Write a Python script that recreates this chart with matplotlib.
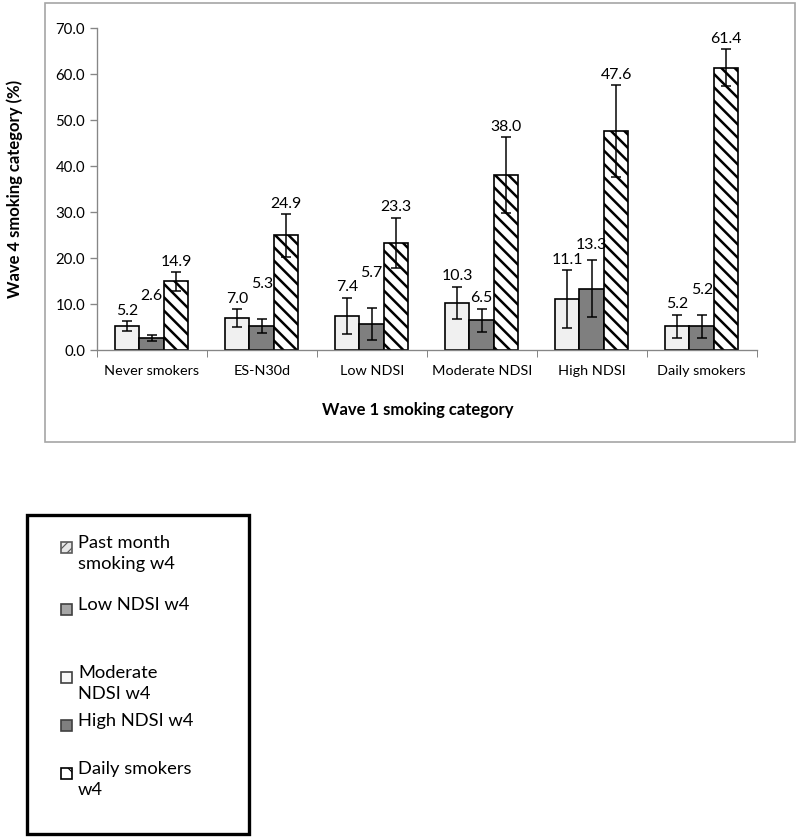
import matplotlib
matplotlib.use("Agg")
import numpy as np
from matplotlib import pyplot as plt
from matplotlib.patches import Rectangle

# wave 1 categories on the x axis
categories = ["Never smokers", "ES-N30d", "Low NDSI", "Moderate NDSI", "High NDSI", "Daily smokers"]

# wave 4 outcome (%) and error bar half widths, one list per bar series
moderate_w4 = [5.2, 7.0, 7.4, 10.3, 11.1, 5.2]
moderate_err = [1.0, 1.9, 4.0, 3.5, 6.3, 2.5]
high_w4 = [2.6, 5.3, 5.7, 6.5, 13.3, 5.2]
high_err = [0.7, 1.5, 3.5, 2.5, 6.2, 2.5]
daily_w4 = [14.9, 24.9, 23.3, 38.0, 47.6, 61.4]
daily_err = [2.0, 4.6, 5.5, 8.2, 10.0, 4.0]

legend_labels = ["Past month\nsmoking w4", "Low NDSI w4", "Moderate\nNDSI w4",
                 "High NDSI w4", "Daily smokers\nw4"]

W, H, DPI = 800, 838, 120
plt.rcParams["font.family"] = ["Lato", "DejaVu Sans"]
plt.rcParams["hatch.linewidth"] = 1.5

fig = plt.figure(figsize=(W / DPI, H / DPI), dpi=DPI)


def px(x, y):
    # pixel position (from top left) -> figure fraction
    return x / W, 1 - y / H


# outer chart frame
fig.add_artist(Rectangle(px(45, 442), 750 / W, 439 / H, transform=fig.transFigure,
                         fill=False, edgecolor="#a6a6a6", lw=1))

ax = fig.add_axes([96.7 / W, 1 - 350 / H, 660 / W, 322 / H])
x = np.arange(len(categories))
bw = 0.223
ekw = dict(ecolor="black", elinewidth=0.9, capsize=3.2, capthick=0.9)

series = [
    (moderate_w4, moderate_err, dict(color="#f0f0f0")),
    (high_w4, high_err, dict(color="#7f7f7f")),
    (daily_w4, daily_err, dict(color="white", hatch="\\\\\\")),
]
prev_top = [None] * len(categories)
for i, (vals, errs, style) in enumerate(series):
    pos = x + (i - 1) * bw
    ax.bar(pos, vals, bw, yerr=errs, edgecolor="black", linewidth=1.0,
           error_kw=ekw, zorder=2, **style)
    for k, (xp, v, e) in enumerate(zip(pos, vals, errs)):
        top = v + e
        # keep neighbouring labels from sitting on top of each other
        if prev_top[k] is not None and abs(top - prev_top[k]) < 3.2:
            top = max(top, prev_top[k] + 3.2)
        prev_top[k] = top
        ax.annotate(f"{v:.1f}", (xp, top), xytext=(0, 2), textcoords="offset points",
                    ha="center", va="bottom", fontsize=9.5)

ax.set_xlim(-0.5, len(categories) - 0.5)
ax.set_ylim(0, 70)
ax.set_yticks(np.arange(0, 71, 10))
ax.set_yticklabels([f"{t:.1f}" for t in np.arange(0, 71, 10)], fontsize=9)
ax.set_xticks(x)
ax.set_xticklabels(categories, fontsize=8.6)
ax.set_xticks(np.arange(-0.5, len(categories)), minor=True)
ax.tick_params(axis="x", which="major", length=0, pad=9)
ax.tick_params(axis="x", which="minor", length=4, color="#868686", direction="out")
ax.tick_params(axis="y", length=4, color="#868686", direction="out", pad=3)
for s in ["top", "right"]:
    ax.spines[s].set_visible(False)
for s in ["left", "bottom"]:
    ax.spines[s].set_color("#868686")

fig.text(*px(15, 189), "Wave 4 smoking category (%)", rotation=90, ha="center", va="center",
         fontsize=10, fontweight="bold")
fig.text(*px(418, 410), "Wave 1 smoking category", ha="center", va="center",
         fontsize=10, fontweight="bold")

# separate legend box below the chart
plt.rcParams["hatch.linewidth"] = 0.7
fig.add_artist(Rectangle(px(27, 834), 222 / W, 319 / H, transform=fig.transFigure,
                         fill=False, edgecolor="black", lw=2))
legend_styles = [
    dict(facecolor="#e6e6e6", hatch="////", edgecolor="#595959"),
    dict(facecolor="#a6a6a6", edgecolor="#404040"),
    dict(facecolor="#f7f7f7", edgecolor="#404040"),
    dict(facecolor="#7f7f7f", edgecolor="#404040"),
    dict(facecolor="white", hatch="\\\\", edgecolor="black"),
]
legend_rows = [547, 609, 677, 725, 773]
for lab, st, yy in zip(legend_labels, legend_styles, legend_rows):
    fig.add_artist(Rectangle(px(61, yy + 6), 11 / W, 11 / H, transform=fig.transFigure,
                             lw=1, **st))
    fig.text(*px(78, yy - 12), lab, ha="left", va="top", fontsize=11, linespacing=1.4)

fig.savefig("out.png", dpi=DPI)
